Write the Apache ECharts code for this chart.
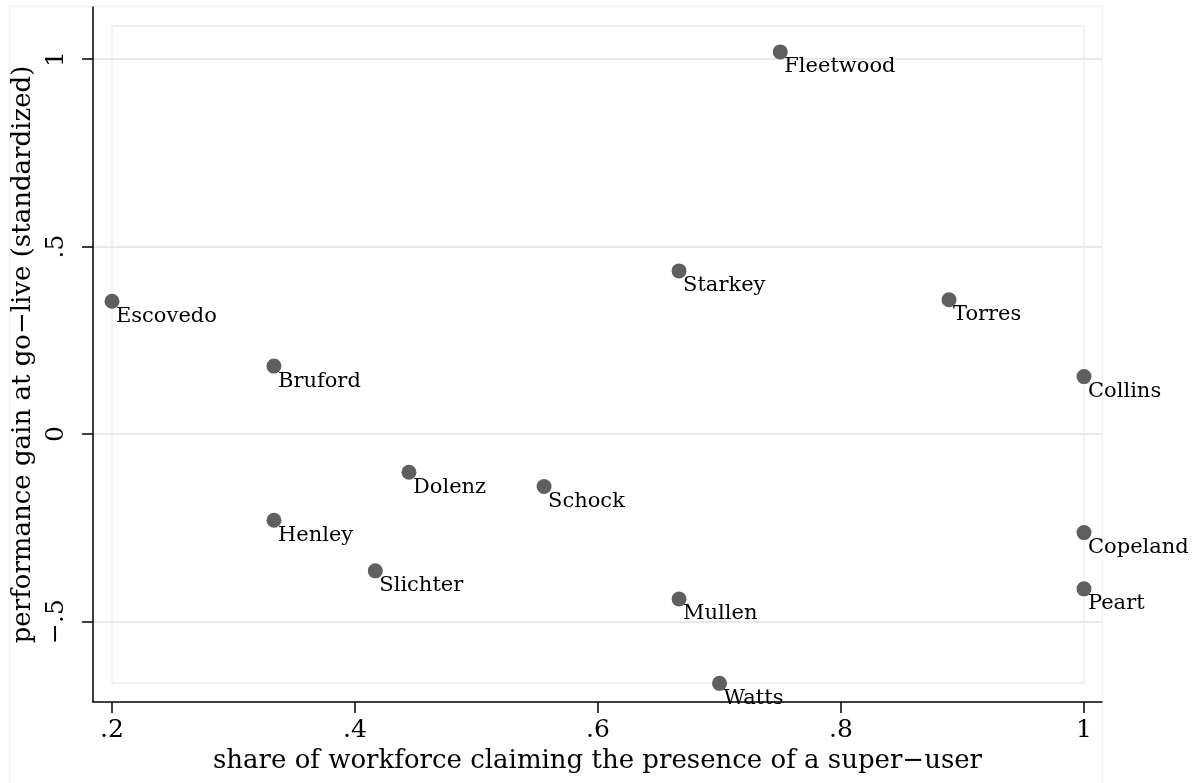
<!DOCTYPE html>
<html>
<head>
<meta charset="utf-8">
<script src="https://cdn.jsdelivr.net/npm/echarts@6/dist/echarts.min.js"></script>
<style>
  html, body { margin: 0; padding: 0; background: #fff; }
  #chart { width: 1198px; height: 783px; }
</style>
</head>
<body>
<div id="chart"></div>
<script>
// Sites: share of workforce reporting a super-user vs. standardized go-live gain
const siteNames = ['Escovedo', 'Bruford', 'Henley', 'Slichter', 'Dolenz', 'Schock', 'Starkey',
                   'Mullen', 'Watts', 'Fleetwood', 'Torres', 'Collins', 'Copeland', 'Peart'];
const superUserShare = [0.2, 0.3333, 0.3333, 0.4167, 0.4444, 0.5556, 0.6667,
                        0.6667, 0.7, 0.75, 0.8889, 1.0, 1.0, 1.0];
const perfGain = [0.354, 0.181, -0.230, -0.365, -0.102, -0.140, 0.435,
                  -0.440, -0.665, 1.019, 0.358, 0.153, -0.263, -0.413];

const xTickValues = [0.2, 0.4, 0.6, 0.8, 1];
const xTickLabels = ['.2', '.4', '.6', '.8', '1'];
const yTickValues = [-0.5, 0, 0.5, 1];
const yTickLabels = ['\u2212.5', '0', '.5', '1'];

const xTitle = 'share of workforce claiming the presence of a super\u2212user';
const yTitle = 'performance gain at go\u2212live (standardized)';

const FONT = '"DejaVu Serif", "Liberation Serif", serif';

function lookup(values, labels) {
  return function (v) {
    for (let i = 0; i < values.length; i++) {
      if (Math.abs(values[i] - v) < 1e-9) return labels[i];
    }
    return '';
  };
}

const points = siteNames.map((n, i) => ({ name: n, value: [superUserShare[i], perfGain[i]] }));

const chart = echarts.init(document.getElementById('chart'), null, { renderer: 'canvas' });

chart.setOption({
  animation: false,
  backgroundColor: '#ffffff',
  grid: { left: 93, right: 96, top: 7, bottom: 81, containLabel: false },
  graphic: [
    { type: 'rect', silent: true, z: -1,
      shape: { x: 9.5, y: 6.5, width: 1093, height: 820 },
      style: { fill: 'none', stroke: '#f2f2f2', lineWidth: 1 } },
    { type: 'rect', silent: true, z: -1,
      shape: { x: 112, y: 26, width: 972, height: 657 },
      style: { fill: 'none', stroke: '#eeeeee', lineWidth: 1.5 } }
  ],
  xAxis: {
    type: 'value',
    min: 0.18436,
    max: 1.01481,
    name: xTitle,
    nameLocation: 'middle',
    nameGap: 46,
    nameTextStyle: { fontFamily: FONT, fontSize: 26, color: '#000' },
    axisLine: { show: true, onZero: false, lineStyle: { color: '#000', width: 1.5 } },
    axisTick: { show: true, customValues: xTickValues, length: 11, lineStyle: { color: '#000', width: 1.5 } },
    axisLabel: { customValues: xTickValues, formatter: lookup(xTickValues, xTickLabels),
                 margin: 16, fontFamily: FONT, fontSize: 25, color: '#000' },
    splitLine: { show: false }
  },
  yAxis: {
    type: 'value',
    min: -0.7147,
    max: 1.1387,
    name: yTitle,
    nameLocation: 'middle',
    nameGap: 54,
    nameRotate: 90,
    nameTextStyle: { fontFamily: FONT, fontSize: 26, color: '#000' },
    axisLine: { show: true, onZero: false, lineStyle: { color: '#000', width: 1.5 } },
    axisTick: { show: true, customValues: yTickValues, length: 11, lineStyle: { color: '#000', width: 1.5 } },
    axisLabel: { customValues: yTickValues, formatter: lookup(yTickValues, yTickLabels),
                 rotate: 90, margin: 24, fontFamily: FONT, fontSize: 25, color: '#000' },
    splitLine: { show: false }
  },
  series: [{
    type: 'scatter',
    data: points,
    symbol: 'circle',
    symbolSize: 15,
    itemStyle: { color: '#5f5f5f', opacity: 1 },
    label: {
      show: true,
      formatter: '{b}',
      position: [11.5, 22.5],
      align: 'left',
      verticalAlign: 'middle',
      fontFamily: FONT,
      fontSize: 21,
      color: '#000'
    },
    labelLayout: { hideOverlap: false },
    markLine: {
      silent: true,
      symbol: ['none', 'none'],
      label: { show: false },
      lineStyle: { color: '#e8e8e8', width: 2, type: 'solid' },
      data: yTickValues.map(v => ({ yAxis: v })),
      z: 0
    },
    z: 3
  }]
});
</script>
</body>
</html>
